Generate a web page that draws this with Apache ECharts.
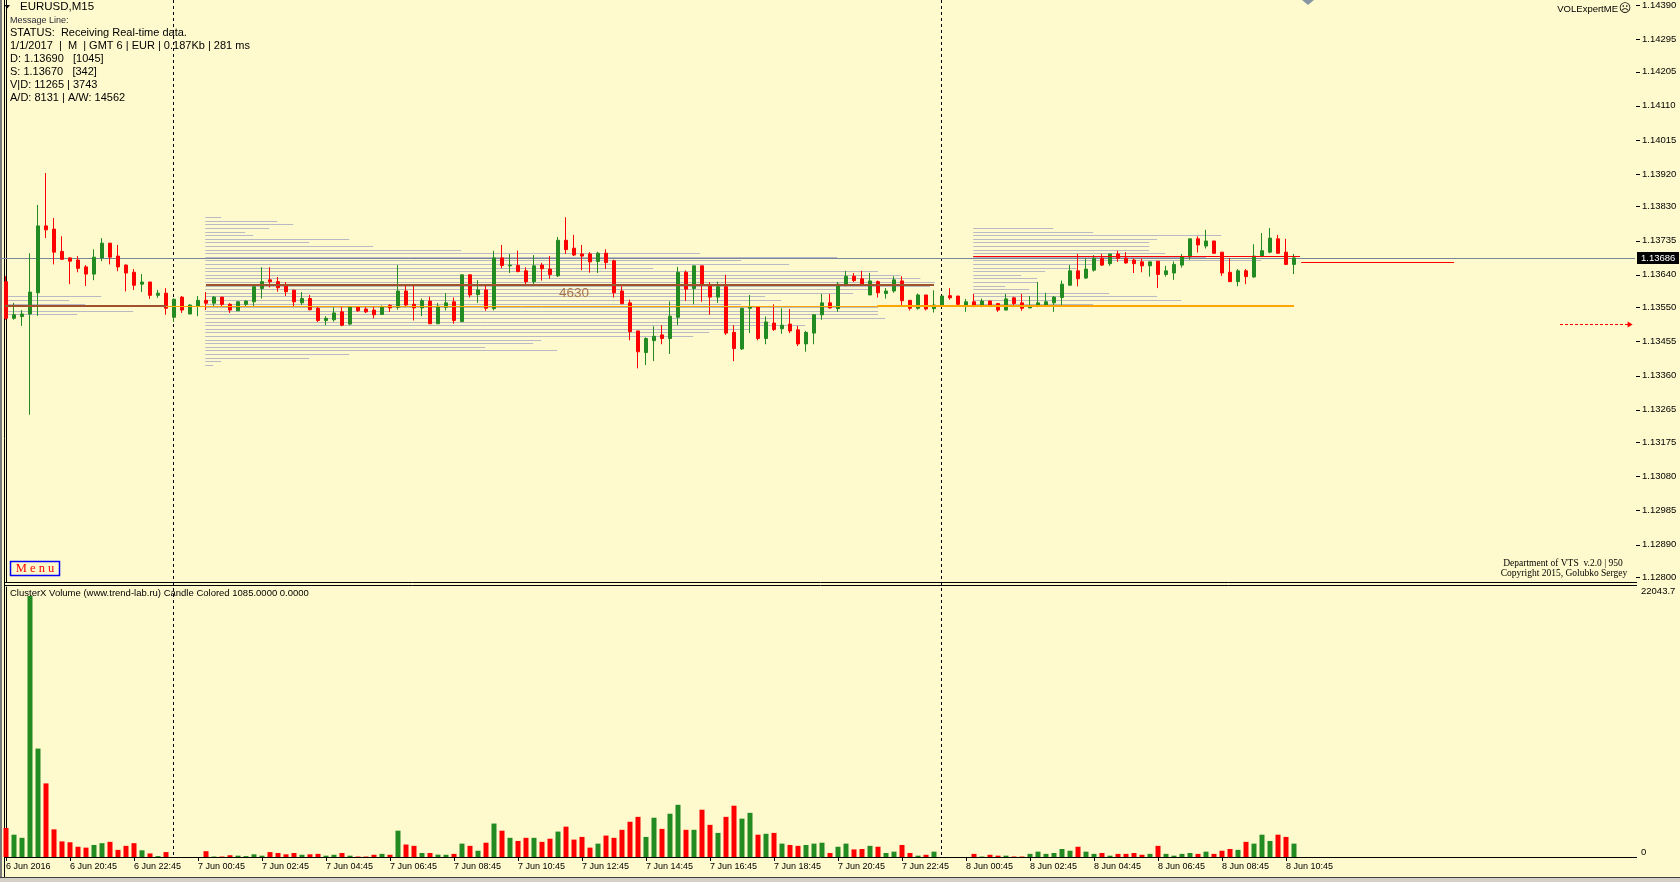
<!DOCTYPE html>
<html><head><meta charset="utf-8">
<script src="https://cdn.jsdelivr.net/npm/echarts@6/dist/echarts.min.js"></script>
<style>html,body{margin:0;padding:0;background:#fffacd;overflow:hidden}#c{width:1680px;height:882px}</style>
</head><body><div id="c"></div>
<script>
// ---------------- DATA ----------------
const opens = [1.13621,1.13519,1.13524,1.13531,1.13590,1.13776,1.13767,1.13705,1.13687,1.13681,
1.13662,1.13642,1.13687,1.13728,1.13692,1.13667,1.13647,1.13614,1.13620,1.13583,
1.13589,1.13522,1.13578,1.13531,1.13553,1.13569,1.13561,1.13578,1.13558,1.13540,
1.13558,1.13565,1.13602,1.13626,1.13621,1.13609,1.13597,1.13562,1.13574,1.13547,
1.13513,1.13515,1.13537,1.13503,1.13550,1.13545,1.13542,1.13530,1.13555,1.13550,
1.13595,1.13558,1.13548,1.13567,1.13504,1.13550,1.13565,1.13510,1.13640,1.13585,
1.13598,1.13546,1.13687,1.13665,1.13666,1.13651,1.13621,1.13667,1.13656,1.13637,
1.13736,1.13714,1.13698,1.13698,1.13677,1.13700,1.13679,1.13595,1.13562,1.13484,
1.13424,1.13457,1.13473,1.13463,1.13522,1.13647,1.13602,1.13665,1.13613,1.13578,
1.13607,1.13480,1.13434,1.13547,1.13551,1.13463,1.13506,1.13490,1.13503,1.13487,
1.13448,1.13478,1.13529,1.13562,1.13546,1.13614,1.13636,1.13629,1.13584,1.13621,
1.13588,1.13595,1.13623,1.13569,1.13547,1.13584,1.13546,1.13552,1.13582,1.13581,
1.13556,1.13565,1.13552,1.13567,1.13560,1.13542,1.13576,1.13562,1.13548,1.13553,
1.13556,1.13562,1.13577,1.13611,1.13651,1.13631,1.13653,1.13686,1.13671,1.13698,
1.13686,1.13681,1.13676,1.13665,1.13678,1.13641,1.13645,1.13667,1.13690,1.13740,
1.13720,1.13734,1.13703,1.13647,1.13621,1.13651,1.13634,1.13692,1.13703,1.13740,
1.13703,1.13669];
const closes = [1.13519,1.13529,1.13531,1.13592,1.13776,1.13765,1.13703,1.13683,1.13678,1.13658,
1.13642,1.13689,1.13728,1.13689,1.13662,1.13645,1.13611,1.13620,1.13583,1.13589,
1.13547,1.13572,1.13542,1.13556,1.13569,1.13561,1.13578,1.13558,1.13542,1.13565,
1.13567,1.13607,1.13621,1.13621,1.13604,1.13593,1.13565,1.13574,1.13543,1.13513,
1.13519,1.13534,1.13500,1.13552,1.13540,1.13537,1.13529,1.13552,1.13548,1.13595,
1.13556,1.13548,1.13568,1.13504,1.13553,1.13562,1.13513,1.13640,1.13584,1.13598,
1.13547,1.13687,1.13666,1.13667,1.13649,1.13621,1.13665,1.13657,1.13641,1.13736,
1.13710,1.13695,1.13692,1.13676,1.13700,1.13674,1.13590,1.13560,1.13482,1.13426,
1.13463,1.13469,1.13463,1.13525,1.13647,1.13600,1.13665,1.13614,1.13578,1.13607,
1.13478,1.13435,1.13547,1.13552,1.13463,1.13509,1.13488,1.13500,1.13484,1.13448,
1.13480,1.13529,1.13562,1.13548,1.13614,1.13636,1.13624,1.13614,1.13623,1.13590,
1.13595,1.13626,1.13568,1.13547,1.13584,1.13545,1.13556,1.13581,1.13576,1.13558,
1.13565,1.13552,1.13567,1.13556,1.13542,1.13573,1.13560,1.13547,1.13553,1.13562,
1.13565,1.13578,1.13614,1.13651,1.13629,1.13656,1.13686,1.13667,1.13698,1.13686,
1.13673,1.13671,1.13665,1.13676,1.13641,1.13651,1.13669,1.13690,1.13740,1.13723,
1.13734,1.13700,1.13645,1.13621,1.13651,1.13635,1.13692,1.13707,1.13742,1.13700,
1.13669,1.13687];
const lows = [1.13515,1.13515,1.13498,1.13251,1.13526,1.13742,1.13669,1.13683,1.13614,1.13647,
1.13609,1.13625,1.13678,1.13669,1.13650,1.13594,1.13598,1.13592,1.13573,1.13576,
1.13529,1.13509,1.13534,1.13531,1.13525,1.13542,1.13553,1.13553,1.13534,1.13540,
1.13553,1.13553,1.13574,1.13605,1.13593,1.13581,1.13552,1.13556,1.13541,1.13509,
1.13500,1.13510,1.13497,1.13500,1.13537,1.13534,1.13519,1.13529,1.13537,1.13543,
1.13550,1.13513,1.13525,1.13504,1.13504,1.13541,1.13504,1.13510,1.13577,1.13562,
1.13540,1.13541,1.13658,1.13645,1.13647,1.13614,1.13614,1.13624,1.13629,1.13634,
1.13698,1.13692,1.13653,1.13646,1.13645,1.13656,1.13577,1.13558,1.13458,1.13380,
1.13389,1.13400,1.13447,1.13420,1.13500,1.13567,1.13558,1.13565,1.13529,1.13562,
1.13473,1.13400,1.13431,1.13478,1.13458,1.13447,1.13484,1.13476,1.13478,1.13442,
1.13426,1.13447,1.13515,1.13546,1.13537,1.13608,1.13620,1.13611,1.13584,1.13577,
1.13574,1.13590,1.13553,1.13541,1.13543,1.13541,1.13535,1.13550,1.13571,1.13553,
1.13537,1.13550,1.13550,1.13553,1.13537,1.13541,1.13556,1.13540,1.13548,1.13550,
1.13556,1.13537,1.13553,1.13610,1.13608,1.13629,1.13649,1.13665,1.13665,1.13676,
1.13671,1.13645,1.13647,1.13635,1.13603,1.13635,1.13626,1.13660,1.13682,1.13702,
1.13713,1.13698,1.13637,1.13621,1.13608,1.13614,1.13632,1.13689,1.13700,1.13698,
1.13667,1.13642];
const highs = [1.13636,1.13562,1.13542,1.13700,1.13834,1.13923,1.13798,1.13747,1.13689,1.13692,
1.13667,1.13711,1.13742,1.13728,1.13723,1.13669,1.13656,1.13642,1.13620,1.13598,
1.13603,1.13574,1.13581,1.13558,1.13581,1.13592,1.13581,1.13578,1.13561,1.13567,
1.13569,1.13607,1.13661,1.13661,1.13634,1.13620,1.13599,1.13592,1.13584,1.13552,
1.13525,1.13550,1.13550,1.13552,1.13552,1.13550,1.13552,1.13555,1.13558,1.13667,
1.13611,1.13611,1.13574,1.13579,1.13562,1.13589,1.13577,1.13640,1.13640,1.13625,
1.13611,1.13707,1.13723,1.13698,1.13707,1.13661,1.13695,1.13673,1.13692,1.13745,
1.13800,1.13751,1.13723,1.13703,1.13704,1.13711,1.13682,1.13608,1.13571,1.13484,
1.13466,1.13497,1.13500,1.13566,1.13662,1.13652,1.13665,1.13665,1.13620,1.13621,
1.13640,1.13500,1.13547,1.13584,1.13551,1.13524,1.13558,1.13547,1.13545,1.13498,
1.13484,1.13531,1.13587,1.13587,1.13620,1.13651,1.13645,1.13651,1.13645,1.13624,
1.13603,1.13636,1.13636,1.13569,1.13588,1.13584,1.13597,1.13581,1.13603,1.13581,
1.13573,1.13587,1.13574,1.13568,1.13562,1.13587,1.13579,1.13587,1.13581,1.13620,
1.13590,1.13581,1.13624,1.13667,1.13698,1.13686,1.13695,1.13698,1.13698,1.13707,
1.13703,1.13686,1.13686,1.13676,1.13678,1.13665,1.13677,1.13698,1.13740,1.13747,
1.13765,1.13734,1.13703,1.13686,1.13656,1.13656,1.13725,1.13756,1.13770,1.13751,
1.13740,1.13698];
const volumes = [2450,1884,1620,22043.7,9156,6217,2336,1319,1243,867,
791,1017,1168,1281,603,942,1168,565,301,75,
414,0,0,0,0,490,40,40,150,113,
75,226,113,414,339,226,339,188,226,264,
113,188,339,113,40,40,188,264,188,2223,
1055,942,339,339,200,188,264,1130,942,528,
1206,2826,2223,1620,1356,1620,1620,1281,1545,2148,
2562,1470,1696,791,1130,1809,1620,2298,2977,3391,
1696,3316,2374,3655,4409,2298,2298,3994,2713,2035,
3391,4333,3240,3730,1884,1959,2035,1130,1017,942,
1017,1130,1206,339,867,1130,641,678,942,867,
339,452,1017,339,113,188,452,0,0,0,
0,264,40,188,113,113,40,40,264,452,
264,339,678,528,867,452,264,339,113,264,
264,339,188,264,942,264,113,264,339,264,
452,264,528,678,603,1281,1130,1884,1356,1884,
1696,1130];
const volMaxLabel = 22043.7;
const startTimeUTC = Date.UTC(2016, 5, 6, 18, 45);
const barMinutes = 15;
const slotCount = 204;               // bars + empty right margin of the chart
const tickLabels = ['6 Jun 2016','6 Jun 20:45','6 Jun 22:45','7 Jun 00:45','7 Jun 02:45','7 Jun 04:45','7 Jun 06:45','7 Jun 08:45','7 Jun 10:45','7 Jun 12:45','7 Jun 14:45','7 Jun 16:45','7 Jun 18:45','7 Jun 20:45','7 Jun 22:45','8 Jun 00:45','8 Jun 02:45','8 Jun 04:45','8 Jun 06:45','8 Jun 08:45','8 Jun 10:45'];
const tickEvery = 8;
const priceTickLabels = ['1.12800','1.12890','1.12985','1.13080','1.13175','1.13265','1.13360','1.13455','1.13550','1.13640','1.13735','1.13830','1.13920','1.14015','1.14110','1.14205','1.14295','1.14390'];
const daySeparators = [21, 117];
const currentPrice = 1.13686;
const arrowPrice = 1.13503;
// volume-profile levels (price, bar where the line ends)
const prof1Start = -0.125;
const prof1Levels = [1.1358,1.1357,1.1356,1.1354,1.1353];
const prof1Ends = [11.9,7.9,9.9,15.9,8.9];
const prof2Start = 24.9;
const prof2Levels = [1.1380,1.1379,1.1378,1.1377,1.1376,1.1375,1.1374,1.1373,1.1372,1.1371,1.1370,1.1369,1.1368,1.1367,1.1366,1.1365,1.1364,1.1363,1.1362,1.1361,1.1360,1.1359,1.1358,1.1357,1.1356,1.1355,1.1354,1.1353,1.1352,1.1351,1.1350,1.1349,1.1348,1.1347,1.1346,1.1345,1.1344,1.1343,1.1342,1.1341,1.1340,1.1339];
const prof2Ends = [26.9,33.9,35.9,32.9,29.9,30.9,42.9,37.9,45.9,56.9,86.75,103.9,91.9,97.9,80.9,109,111.8,114.3,116.1,115.5,108,105.9,94.9,96.9,91.9,109,109,109,109.9,95.5,99.9,92.9,87.9,85.9,66.9,65.9,59.9,68.9,42.9,37.9,26.9,25.9];
const prof3Start = 120.9;
const prof3Levels = [1.1377,1.1376,1.1375,1.1374,1.1373,1.1372,1.1371,1.1370,1.1369,1.1368,1.1367,1.1366,1.1365,1.1364,1.1363,1.1362,1.1361,1.1360,1.1359,1.1358,1.1357,1.1356];
const prof3Ends = [130.9,135.9,151.9,143.9,142.9,142.9,142.9,144.9,150,156.9,135.9,133.9,129.9,126.9,128.9,128.9,124.9,127.9,137.9,143.9,146.9,135.9];
// level lines: [price, fromBar, toBar]
const brownLevelA = [[1.13552, -0.125, 20]];
const orangeThin = [[1.13552, 20, 108.9]];
const orangeThick = [[1.13552, 108.9, 161]];
const brownLevelB = [[1.13613, 25, 116]];
const redLevel = [[1.13692, 120.9, 161.75], [1.13675, 161.9, 181]];

// ---------------- BUILD ----------------
const MON = ['Jan','Feb','Mar','Apr','May','Jun','Jul','Aug','Sep','Oct','Nov','Dec'];
const pad = n => (n < 10 ? '0' : '') + n;
const cats = [];
for (let i = 0; i < slotCount; i++) {
  const d = new Date(startTimeUTC + i * barMinutes * 60000);
  cats.push(d.getUTCDate() + ' ' + MON[d.getUTCMonth()] + ' ' + pad(d.getUTCHours()) + ':' + pad(d.getUTCMinutes()));
}
const GREEN = '#228b22', RED = '#ff0000';
const FONT = '"Liberation Sans", Arial, sans-serif';
const candles = opens.map((o, i) => [o, closes[i], lows[i], highs[i]]);
const volData = volumes.map((v, i) => ({ value: v, itemStyle: { color: closes[i] >= opens[i] ? GREEN : RED } }));
const priceTickVals = priceTickLabels.map(Number);
const PMAX = 1.144039, PMIN = 1.127861;
const VMAX = 22803.8;
const toSeg = (levels, ends, start) => levels.map((p, i) => [p, start, ends[i]]);
const profData = [].concat(toSeg(prof1Levels, prof1Ends, prof1Start), toSeg(prof2Levels, prof2Ends, prof2Start), toSeg(prof3Levels, prof3Ends, prof3Start));

function hSeg(color, width, z, dash) {
  return {
    type: 'custom', xAxisIndex: 1, yAxisIndex: 0, z: z, silent: true,
    encode: { x: [1, 2], y: 0 },
    renderItem: function (params, api) {
      const a = api.coord([api.value(1), api.value(0)]);
      const b = api.coord([api.value(2), api.value(0)]);
      const y = Math.round(a[1]) + (width % 2 ? 0.5 : 0);
      return { type: 'line', shape: { x1: a[0], y1: y, x2: b[0], y2: y }, style: { stroke: color, lineWidth: width, lineDash: dash || null } };
    }
  };
}
const showTick = i => i % tickEvery === 0 && i / tickEvery < tickLabels.length;

const chart = echarts.init(document.getElementById('c'));
const option = {
  backgroundColor: '#fffacd',
  animation: false,
  grid: [
    { left: 2, top: 0, width: 1632, height: 582 },
    { left: 2, top: 587, width: 1632, height: 270 }
  ],
  xAxis: [
    { type: 'category', gridIndex: 0, data: cats, boundaryGap: true, show: false },
    { type: 'value', gridIndex: 0, min: -0.5, max: slotCount - 0.5, show: false },
    { type: 'category', gridIndex: 1, data: cats, boundaryGap: true,
      axisLine: { show: false },
      axisTick: { show: true, alignWithLabel: true, interval: showTick, length: 4, lineStyle: { color: '#000' } },
      axisLabel: { interval: showTick, formatter: (v, i) => tickLabels[i / tickEvery], align: 'left', fontSize: 9, color: '#000', margin: 5, fontFamily: FONT },
      splitLine: { show: false } },
    { type: 'value', gridIndex: 1, min: -0.5, max: slotCount - 0.5, show: false }
  ],
  yAxis: [
    { type: 'value', gridIndex: 0, position: 'right', offset: 2, min: PMIN, max: PMAX,
      axisLine: { show: true, lineStyle: { color: '#000', width: 1 } },
      axisTick: { show: false },
      minorTick: { show: false },
      axisLabel: { customValues: priceTickVals, formatter: v => v.toFixed(5), fontSize: 9.5, color: '#000', margin: 6, fontFamily: FONT },
      splitLine: { show: false }, minorSplitLine: { show: false } },
    { type: 'value', gridIndex: 1, position: 'right', offset: 2, min: 0, max: VMAX,
      axisLine: { show: true, lineStyle: { color: '#000', width: 1 } },
      axisTick: { show: false },
      axisLabel: { customValues: [0, volMaxLabel], formatter: v => String(v), verticalAlign: 'bottom', fontSize: 9.5, color: '#000', margin: 5, fontFamily: FONT },
      splitLine: { show: false } }
  ],
  series: [
    Object.assign(hSeg('#b9bac6', 1, 1), { data: profData }),
    Object.assign(hSeg('#76879a', 1, 1), { data: [[currentPrice, -0.625, slotCount - 0.375]] }),
    { type: 'candlestick', xAxisIndex: 0, yAxisIndex: 0, z: 2, data: candles, barWidth: 4, silent: true,
      itemStyle: { color: GREEN, color0: RED, borderColor: GREEN, borderColor0: RED, borderWidth: 1 } },
    Object.assign(hSeg('#a0522d', 2, 3), { data: brownLevelA.concat(brownLevelB) }),
    Object.assign(hSeg('#ffa500', 1, 3), { data: orangeThin }),
    Object.assign(hSeg('#ffa500', 2, 3), { data: orangeThick }),
    Object.assign(hSeg('#ff0000', 1, 3), { data: redLevel }),
    { type: 'custom', xAxisIndex: 1, yAxisIndex: 0, z: 3, silent: true, encode: { x: [1, 2], y: 0 },
      data: [[arrowPrice, 194.25, 203.2]],
      renderItem: function (params, api) {
        const a = api.coord([api.value(1), api.value(0)]);
        const b = api.coord([api.value(2), api.value(0)]);
        const y = Math.round(a[1]) + 0.5;
        return { type: 'group', children: [
          { type: 'line', shape: { x1: a[0], y1: y, x2: b[0] - 3, y2: y }, style: { stroke: RED, lineWidth: 1, lineDash: [3, 2] } },
          { type: 'polygon', shape: { points: [[b[0] - 4, y - 3], [b[0] + 1, y], [b[0] - 4, y + 3]] }, style: { fill: RED } }
        ] };
      } },
    { type: 'bar', xAxisIndex: 2, yAxisIndex: 1, data: volData, barWidth: 5, silent: true }
  ]
};
chart.setOption(option);

// ---------------- DECORATION ----------------
const g = [];
const txt = (t, x, y, size, fill, extra) => g.push(Object.assign({ type: 'text', silent: true, z: 10, style: Object.assign({ text: t, x: x, y: y, fill: fill || '#000', font: size + 'px ' + FONT, verticalAlign: 'middle' }, extra || {}) }));
const line = (x1, y1, x2, y2, stroke, w, dash) => g.push({ type: 'line', silent: true, shape: { x1, y1, x2, y2 }, style: { stroke, lineWidth: w || 1, lineDash: dash || null } });
// frame
g.push({ type: 'rect', silent: true, shape: { x: 0, y: 0, width: 2, height: 882 }, style: { fill: '#7a7a7a' } });
line(4.5, 0, 4.5, 877, '#000');
line(4, 582.5, 1637, 582.5, '#000');
line(4, 585.5, 1637, 585.5, '#000');
line(4, 857.5, 1637, 857.5, '#000');
g.push({ type: 'rect', silent: true, shape: { x: 0, y: 877, width: 1680, height: 1 }, style: { fill: '#404040' } });
g.push({ type: 'rect', silent: true, shape: { x: 0, y: 878, width: 1680, height: 4 }, style: { fill: '#d4d0c8' } });
// price-axis tick marks, placed through the price scale
const axisX = 1636;
priceTickVals.forEach(v => {
  const y = Math.round(chart.convertToPixel({ yAxisIndex: 0 }, v)) + 0.5;
  line(axisX, y, axisX + 4, y, '#000');
});
// day separators
daySeparators.forEach(i => {
  const x = Math.round(chart.convertToPixel({ xAxisIndex: 0 }, i)) - 0.5;
  line(x, 0, x, 857, '#000', 1, [3, 3]);
});
// current price tag
const yCur = chart.convertToPixel({ yAxisIndex: 0 }, currentPrice);
g.push({ type: 'rect', silent: true, z: 9, shape: { x: 1637, y: Math.round(yCur) - 6, width: 42, height: 12 }, style: { fill: '#000' } });
txt(currentPrice.toFixed(5), 1641, Math.round(yCur), 9.5, '#fff');
// top-left info
g.push({ type: 'polygon', silent: true, shape: { points: [[4.5, 5], [10, 5], [7.25, 8.5]] }, style: { fill: '#000' } });
txt('EURUSD,M15', 20, 7, 11.5);
txt('Message Line:', 10, 20.5, 9, '#2a2a3a');
txt('STATUS:  Receiving Real-time data.', 10, 33, 11);
txt('1/1/2017  |  M  | GMT 6 | EUR | 0.187Kb | 281 ms', 10, 46, 11);
txt('D: 1.13690   [1045]', 10, 59, 11);
txt('S: 1.13670   [342]', 10, 72, 11);
txt('V|D: 11265 | 3743', 10, 85, 11);
txt('A/D: 8131 | A/W: 14562', 10, 98, 11);
// top-right
txt('VOLExpertME', 1618, 9, 9.5, '#000', { align: 'right' });
txt('\u2639', 1625, 9, 12, '#000', { align: 'center', font: '12px "DejaVu Sans"' });
g.push({ type: 'polygon', silent: true, shape: { points: [[1302, 0], [1314, 0], [1308, 5]] }, style: { fill: '#8796a5' } });
// profile label
txt('4630', 559, 293, 13.5, '#a9754d');
// menu button
g.push({ type: 'rect', silent: true, shape: { x: 10.5, y: 561.5, width: 49, height: 14 }, style: { fill: 'rgba(0,0,0,0)', stroke: '#0000ff', lineWidth: 1.5 } });
txt('M e n u', 35, 569, 12.5, '#ff0000', { align: 'center', font: '12.5px "Liberation Serif", serif' });
// copyright
txt('Department of VTS  v.2.0 | 950', 1563, 563, 9.5, '#000', { align: 'center', font: '9.5px "Liberation Serif", serif' });
txt('Copyright 2015, Golubko Sergey', 1564, 573, 9.5, '#000', { align: 'center', font: '9.5px "Liberation Serif", serif' });
// indicator caption
txt('ClusterX Volume (www.trend-lab.ru) Candle Colored 1085.0000 0.0000', 10, 593, 9.5);
chart.setOption({ graphic: g });
</script>
</body></html>
